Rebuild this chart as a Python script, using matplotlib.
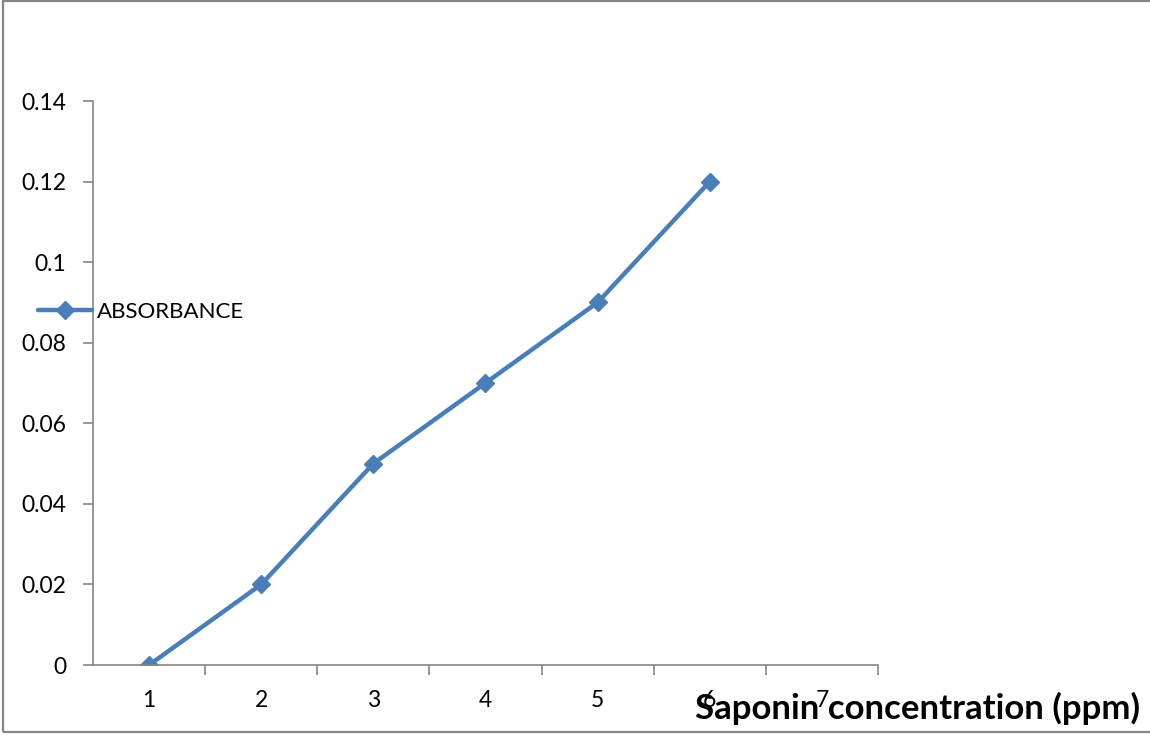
import matplotlib.pyplot as plt
from matplotlib.patches import Rectangle

# saponin standard curve
concentration = [1, 2, 3, 4, 5, 6]
absorbance = [0.0, 0.02, 0.05, 0.07, 0.09, 0.12]
category_labels = ['1', '2', '3', '4', '5', '6', '7']
y_ticks = [0, 0.02, 0.04, 0.06, 0.08, 0.1, 0.12, 0.14]
y_tick_labels = ['0', '0.02', '0.04', '0.06', '0.08', '0.1', '0.12', '0.14']

W, H = 1150, 736
fig = plt.figure(figsize=(W / 100, H / 100), dpi=100)
plt.rcParams['font.family'] = ['Lato', 'DejaVu Sans']

ax = fig.add_axes([93 / W, 1 - 665 / H, (878 - 93) / W, (665 - 101) / H])

line_color = '#4A7EBB'
axis_color = '#868686'
fs = 16.5

ax.plot(concentration, absorbance, color=line_color, lw=3.2, marker='D',
        markersize=9, label='ABSORBANCE', solid_capstyle='round')

ax.set_xlim(0.5, 7.5)
ax.set_ylim(0, 0.14)

ax.set_xticks(range(1, 8))
ax.set_xticklabels(category_labels)
ax.set_xticks([i + 0.5 for i in range(1, 8)], minor=True)
ax.tick_params(axis='x', which='major', length=0, pad=18, labelsize=fs)
ax.tick_params(axis='x', which='minor', length=7, width=1.2, color=axis_color, direction='out')

ax.set_yticks(y_ticks)
ax.set_yticklabels(y_tick_labels)
ax.tick_params(axis='y', length=7, width=1.2, color=axis_color, direction='out',
               pad=12, labelsize=fs)

for side in ['top', 'right']:
    ax.spines[side].set_visible(False)
for side in ['left', 'bottom']:
    ax.spines[side].set_color(axis_color)
    ax.spines[side].set_linewidth(1.2)

ax.legend(loc='center left', bbox_to_anchor=(38 / W, 1 - 312 / H),
          bbox_transform=fig.transFigure, frameon=False, fontsize=16,
          handlelength=2.45, handletextpad=0.2, borderpad=0, borderaxespad=0)

fig.text(1140 / W, 1 - 708 / H, 'Saponin concentration (ppm)', ha='right',
         va='center', fontsize=25, fontweight='bold')

# chart border
fig.patches.append(Rectangle((3 / W, 1 - 732 / H), 1.0, (731 / H), transform=fig.transFigure,
                             fill=False, edgecolor=axis_color, lw=1.6))

fig.savefig('out.png', dpi=100)
